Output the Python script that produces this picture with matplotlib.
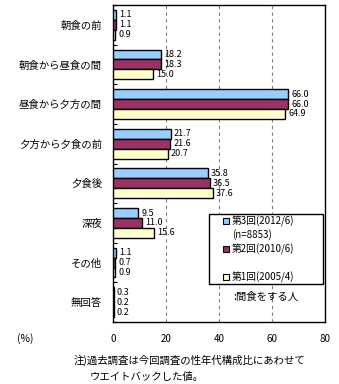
import matplotlib.pyplot as plt
import matplotlib.patches as mpatches
import numpy as np

plt.rcParams['font.family'] = ['Noto Sans CJK JP', 'DejaVu Sans']

# 間食の時間帯（%）
categories = ['朝食の前', '朝食から昼食の間', '昼食から夕方の間', '夕方から夕食の前',
              '夕食後', '深夜', 'その他', '無回答']
r3_2012 = [1.1, 18.2, 66.0, 21.7, 35.8, 9.5, 1.1, 0.3]
r2_2010 = [1.1, 18.3, 66.0, 21.6, 36.5, 11.0, 0.7, 0.2]
r1_2005 = [0.9, 15.0, 64.9, 20.7, 37.6, 15.6, 0.9, 0.2]
series_names = ['第3回(2012/6)', '第2回(2010/6)', '第1回(2005/4)']
colors = ['#99CCFF', '#993366', '#FFFFCC']
xticks = [0, 20, 40, 60, 80]

W, H = 339, 384
fig = plt.figure(figsize=(W / 100, H / 100), dpi=100)

def px(x, y):
    # pixel position (from top-left) -> figure fraction
    return x / W, 1 - y / H

L, T, R, B = 113, 5, 325, 322
ax = fig.add_axes([L / W, 1 - B / H, (R - L) / W, (B - T) / H])

y = np.arange(len(categories))
bh = 0.25
for k, vals in enumerate([r3_2012, r2_2010, r1_2005]):
    yy = y + (k - 1) * bh
    ax.barh(yy, vals, height=bh, color=colors[k], edgecolor='black', linewidth=1.0, zorder=3)
    for v, yv in zip(vals, yy):
        ax.text(v + 1.2, yv, f'{v:.1f}', va='center', ha='left', fontsize=6.5, zorder=4)

ax.set_xlim(0, 80)
ax.set_ylim(len(categories) - 0.5, -0.5)
ax.set_xticks(xticks)
ax.set_xticklabels([str(t) for t in xticks], fontsize=7)
ax.tick_params(axis='x', length=0, pad=9)
ax.set_yticks(np.arange(len(categories) + 1) - 0.5, minor=False)
ax.set_yticklabels([])
ax.tick_params(axis='y', direction='in', length=3, width=0.8)
ax.set_yticks(y, minor=True)
ax.set_yticklabels(categories, minor=True, fontsize=7.5)
ax.tick_params(axis='y', which='minor', length=0, pad=8)
for gx in [20, 40, 60]:
    ax.axvline(gx, color='#808080', linestyle=(0, (3, 3)), linewidth=0.8, zorder=1)
for s in ax.spines.values():
    s.set_linewidth(1.0)

fig.text(*px(17, 339), '(%)', fontsize=7.5, va='center', ha='left')

# 凡例
x0, y0 = px(209, 284)
x1, y1 = px(323, 214)
fig.patches.append(mpatches.Rectangle((x0, y0), x1 - x0, y1 - y0, transform=fig.transFigure,
                                      facecolor='white', edgecolor='black', linewidth=1.0, zorder=5))
entries = [(221, colors[0], series_names[0]), (235, None, '(n=8853)'),
           (249, colors[1], series_names[1]), (277, colors[2], series_names[2])]
for ey, c, label in entries:
    if c is not None:
        sx, sy = px(223, ey + 3)
        fig.patches.append(mpatches.Rectangle((sx, sy), 6 / W, 6 / H, transform=fig.transFigure,
                                              facecolor=c, edgecolor='black', linewidth=0.8, zorder=6))
    fig.text(*px(232, ey), label, fontsize=7, va='center', ha='left', zorder=6)

fig.text(*px(233, 297), ':間食をする人', fontsize=7.5, va='center', ha='left')

fig.text(*px(74, 360), '注)過去調査は今回調査の性年代構成比にあわせて', fontsize=7.5, va='center', ha='left')
fig.text(*px(90, 377), 'ウエイトバックした値。', fontsize=7.5, va='center', ha='left')

fig.savefig('out.png', dpi=100)
